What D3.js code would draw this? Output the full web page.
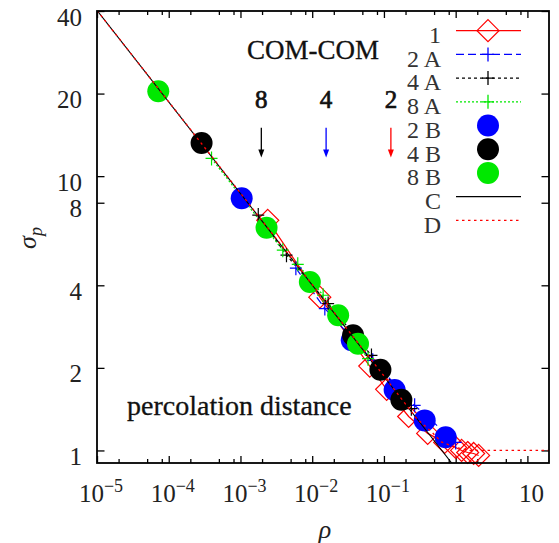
<!DOCTYPE html>
<html><head><meta charset="utf-8">
<script src="https://cdn.jsdelivr.net/npm/d3@7"></script>
<style>body{margin:0;background:#fff}svg{display:block}</style>
</head><body><svg id="c" width="559" height="543"></svg>
<script>
// ---------- data ----------
const xTickValues = [1e-5, 1e-4, 1e-3, 1e-2, 1e-1, 1, 10];
const xTickBase   = ["10", "10", "10", "10", "10", "1", "10"];
const xTickExp    = ["−5", "−4", "−3", "−2", "−1", "", ""];
const xMinorMult  = [2, 5, 8];
const yTickValues = [1, 2, 4, 8, 10, 20, 40];
const yTickLabels = ["1", "2", "4", "8", "10", "20", "40"];

const s1Rho   = [0.0024, 0.01276, 0.0634, 0.109, 0.221, 0.407, 0.703, 1.0, 1.21, 1.47, 1.78, 2.09];
const s1Sigma = [6.9, 3.62, 2.03, 1.67, 1.33, 1.154, 1.07, 1.025, 1.0, 0.983, 0.975, 0.959];

const s2ARho   = [0.00592, 0.015, 0.0698, 0.268, 1.0];
const s2ASigma = [4.62, 3.29, 2.13, 1.46, 1.07];
const s4ARho   = [0.00177, 0.00438, 0.01667, 0.067, 0.241];
const s4ASigma = [7.21, 5.15, 3.43, 2.22, 1.42];
const s8ARho   = [0.000395, 0.00389, 0.00629, 0.0142, 0.060];
const s8ASigma = [11.6, 5.37, 4.77, 3.68, 2.16];

const s2BRho   = [0.00104, 0.0356, 0.141, 0.37, 0.726];
const s2BSigma = [8.31, 2.52, 1.66, 1.287, 1.118];
const s4BRho   = [0.000287, 0.0371, 0.0893, 0.175];
const s4BSigma = [13.2, 2.63, 1.97, 1.53];
const s8BRho   = [0.0000715, 0.00231, 0.00927, 0.023, 0.0435];
const s8BSigma = [20.4, 6.48, 4.11, 3.11, 2.45];

const cRho   = [1e-5, 0.88];
const cSigma = [40.2, 0.9];
const dRho   = [1e-5, 0.1, 0.284, 0.46, 0.63, 1.0, 1.57, 20];
const dSigma = [40.2, 1.87, 1.31, 1.17, 1.075, 1.025, 1.0, 1.0];

const legendLabels = ["1", "2 A", "4 A", "8 A", "2 B", "4 B", "8 B", "C", "D"];
const arrowRho    = [1/512, 1/64, 1/8];
const arrowLabels = ["8", "4", "2"];
const arrowSigmaTop = 15, arrowSigmaBottom = 11.7;

// ---------- layout ----------
const L = 97, R = 549, T = 11, B = 463;
const FONT = "'Liberation Serif', 'Times New Roman', serif";
const RED = "#ff0000", BLUE = "#0000ff", GREEN = "#00e800", BLACK = "#000000";

const x = d3.scaleLog().domain([1e-5, 20]).range([L, R]);
const y = d3.scaleLog().domain([0.9, 40]).range([B, T]);
const svg = d3.select("#c");

svg.append("defs").append("clipPath").attr("id", "clip")
  .append("rect").attr("x", L).attr("y", T).attr("width", R - L).attr("height", B - T);

// ---------- axes ----------
const minorX = xTickValues.flatMap(v => xMinorMult.map(m => v * m)).filter(v => v < 20);
function axisG(axis, tx, ty) {
  const g = svg.append("g").attr("transform", `translate(${tx},${ty})`).call(axis);
  g.select(".domain").remove();
  g.selectAll("text").remove();
  g.selectAll("line").attr("stroke", "#000").attr("stroke-width", 1.3);
  return g;
}
axisG(d3.axisBottom(x).tickValues(xTickValues).tickSize(-7).tickFormat(""), 0, B);
axisG(d3.axisBottom(x).tickValues(minorX).tickSize(-4).tickFormat(""), 0, B);
axisG(d3.axisTop(x).tickValues(xTickValues).tickSize(-7).tickFormat(""), 0, T);
axisG(d3.axisTop(x).tickValues(minorX).tickSize(-4).tickFormat(""), 0, T);
axisG(d3.axisLeft(y).tickValues(yTickValues).tickSize(-7.5).tickFormat(""), L, 0);
axisG(d3.axisRight(y).tickValues(yTickValues).tickSize(-7.5).tickFormat(""), R, 0);

// x tick labels
xTickValues.forEach((v, i) => {
  const t = svg.append("text").attr("x", x(v) + 4).attr("y", 502)
    .attr("text-anchor", "middle").attr("font-family", FONT).attr("font-size", 25).attr("fill", "#222");
  t.append("tspan").text(xTickBase[i]);
  if (xTickExp[i]) t.append("tspan").attr("dy", -10).attr("font-size", 18).text(xTickExp[i]);
});
// y tick labels
yTickValues.forEach((v, i) => {
  svg.append("text").attr("x", 82).attr("y", y(v) + 14.5)
    .attr("text-anchor", "end").attr("font-family", FONT).attr("font-size", 25).attr("fill", "#222")
    .text(yTickLabels[i]);
});

// axis titles
svg.append("text").attr("x", 325).attr("y", 538).attr("text-anchor", "middle")
  .attr("font-family", FONT).attr("font-style", "italic").attr("font-size", 26).attr("fill", "#222").text("ρ");
const yl = svg.append("text").attr("transform", "translate(36,238) rotate(-90)").attr("text-anchor", "middle")
  .attr("font-family", FONT).attr("font-style", "italic").attr("font-size", 26).attr("fill", "#222");
yl.append("tspan").text("σ");
yl.append("tspan").attr("dy", 6).attr("font-size", 18).text("p");

// ---------- series ----------
const line = d3.line().x(d => x(d[0])).y(d => y(d[1]));
const zip = (a, b) => a.map((v, i) => [v, b[i]]);
const plot = svg.append("g");
const lines = plot.append("g").attr("clip-path", "url(#clip)");

const diamondPath = "M0,-11L11,0L0,11L-11,0Z";
const crossPath = "M-6,0H6M0,-7V7";

function drawLine(data, color, dash, w) {
  lines.append("path").attr("d", line(data)).attr("fill", "none")
    .attr("stroke", color).attr("stroke-width", w || 1.2)
    .attr("stroke-dasharray", dash || null);
}
function drawSymbols(data, pathD, color) {
  plot.append("g").selectAll("path").data(data).join("path")
    .attr("transform", d => `translate(${x(d[0])},${y(d[1])})`)
    .attr("d", pathD).attr("fill", "none").attr("stroke", color).attr("stroke-width", 1.2);
}
function drawCircles(data, color) {
  plot.append("g").selectAll("circle").data(data).join("circle")
    .attr("cx", d => x(d[0])).attr("cy", d => y(d[1])).attr("r", 11).attr("fill", color);
}

const s1 = zip(s1Rho, s1Sigma);
drawLine(s1, RED);
drawSymbols(s1, diamondPath, RED);
const s2A = zip(s2ARho, s2ASigma);
drawLine(s2A, BLUE, "8,4");
drawSymbols(s2A, crossPath, BLUE);
const s4A = zip(s4ARho, s4ASigma);
drawLine(s4A, BLACK, "3,3");
drawSymbols(s4A, crossPath, BLACK);
const s8A = zip(s8ARho, s8ASigma);
drawLine(s8A, GREEN, "2,2");
drawSymbols(s8A, crossPath, GREEN);
drawCircles(zip(s2BRho, s2BSigma), BLUE);
drawCircles(zip(s4BRho, s4BSigma), BLACK);
drawCircles(zip(s8BRho, s8BSigma), GREEN);
const lines2 = plot.append("g").attr("clip-path", "url(#clip)");
lines2.append("path").attr("d", line(zip(cRho, cSigma))).attr("fill", "none").attr("stroke", BLACK).attr("stroke-width", 1.1);
lines2.append("path").attr("d", line(zip(dRho, dSigma))).attr("fill", "none").attr("stroke", RED).attr("stroke-width", 1.3).attr("stroke-dasharray", "2.5,3.5");

// frame
svg.append("rect").attr("x", L).attr("y", T).attr("width", R - L).attr("height", B - T)
  .attr("fill", "none").attr("stroke", "#000").attr("stroke-width", 1.8);

// ---------- legend ----------
const legend = svg.append("g");
const legendSpec = [
  {c: RED, dash: null, sym: "diamond", line: true},
  {c: BLUE, dash: "8,4", sym: "cross", line: true},
  {c: BLACK, dash: "3,3", sym: "cross", line: true},
  {c: GREEN, dash: "2,2", sym: "cross", line: true},
  {c: BLUE, sym: "circle", line: false},
  {c: BLACK, sym: "circle", line: false},
  {c: GREEN, sym: "circle", line: false},
  {c: BLACK, dash: null, sym: null, line: true},
  {c: RED, dash: "2.5,3.5", sym: null, line: true}
];
legendLabels.forEach((lab, i) => {
  const ry = 30.7 + 23.7 * i;
  legend.append("text").attr("x", 441).attr("y", ry + 12.3).attr("text-anchor", "end")
    .attr("font-family", FONT).attr("font-size", 24).attr("fill", "#333").text(lab);
  const s = legendSpec[i];
  if (s.line) legend.append("line").attr("x1", 456).attr("x2", 521).attr("y1", ry).attr("y2", ry)
    .attr("stroke", s.c).attr("stroke-width", 1.3).attr("stroke-dasharray", s.dash);
  if (s.sym === "diamond") legend.append("path").attr("transform", `translate(488,${ry})`).attr("d", diamondPath).attr("fill", "#fff").attr("fill-opacity", 0).attr("stroke", s.c).attr("stroke-width", 1.2);
  if (s.sym === "cross") legend.append("path").attr("transform", `translate(488,${ry})`).attr("d", crossPath).attr("fill", "none").attr("stroke", s.c).attr("stroke-width", 1.3);
  if (s.sym === "circle") legend.append("circle").attr("cx", 488).attr("cy", ry).attr("r", 11).attr("fill", s.c);
});

// ---------- annotations ----------
svg.append("text").attr("x", 313).attr("y", 59).attr("text-anchor", "middle")
  .attr("font-family", FONT).attr("font-size", 27).attr("fill", "#111")
  .attr("stroke", "#111").attr("stroke-width", 0.3).text("COM-COM");
svg.append("text").attr("x", 127).attr("y", 415)
  .attr("font-family", FONT).attr("font-size", 28).attr("fill", "#111")
  .attr("stroke", "#111").attr("stroke-width", 0.3).text("percolation distance");
const arrowColors = [BLACK, BLUE, RED];
arrowRho.forEach((r, i) => {
  const ax = x(r), y1 = y(arrowSigmaTop), y2 = y(arrowSigmaBottom);
  svg.append("line").attr("x1", ax).attr("x2", ax).attr("y1", y1).attr("y2", y2 - 7)
    .attr("stroke", arrowColors[i]).attr("stroke-width", 1.3);
  svg.append("path").attr("d", `M${ax - 3},${y2 - 8}L${ax + 3},${y2 - 8}L${ax},${y2}Z`).attr("fill", arrowColors[i]);
  svg.append("text").attr("x", ax).attr("y", 108).attr("text-anchor", "middle")
    .attr("font-family", FONT).attr("font-size", 25).attr("fill", "#111")
    .attr("stroke", "#111").attr("stroke-width", 0.7).text(arrowLabels[i]);
});
</script></body></html>
